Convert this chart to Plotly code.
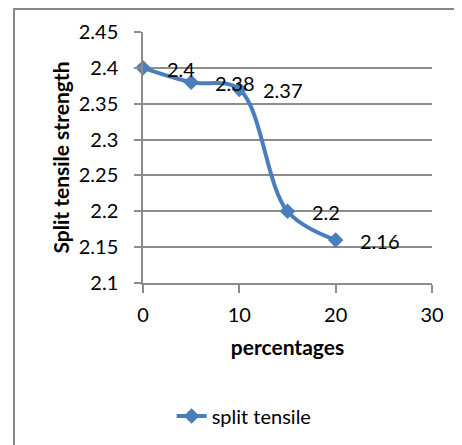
import plotly.graph_objects as go

percentages = [0, 5, 10, 15, 20]
split_tensile = [2.4, 2.38, 2.37, 2.2, 2.16]
point_labels = ["2.4", "2.38", "2.37", "2.2", "2.16"]
x_ticks = [0, 10, 20, 30]
y_ticks = [2.1, 2.15, 2.2, 2.25, 2.3, 2.35, 2.4, 2.45]
y_tick_labels = ["2.1", "2.15", "2.2", "2.25", "2.3", "2.35", "2.4", "2.45"]

BLUE = "#4A7EBB"
GRID = "#8C8C8C"
FONT = "Lato"
FS = 20

fig = go.Figure()
fig.add_trace(go.Scatter(
    x=percentages, y=split_tensile,
    mode="lines+markers",
    name="split tensile",
    line=dict(color=BLUE, width=4, shape="spline", smoothing=1),
    marker=dict(symbol="diamond", size=12, color=BLUE),
    cliponaxis=False,
))

annotations = [
    dict(x=xv, y=yv, xref="x", yref="y", text=t, showarrow=False,
         xanchor="left", yanchor="middle", xshift=22, yshift=-1,
         font=dict(family=FONT, size=FS, color="#000000"))
    for xv, yv, t in zip(percentages, split_tensile, point_labels)
]

fig.update_layout(
    width=454, height=437,
    margin=dict(l=135, r=30, t=24, b=162, autoexpand=False),
    paper_bgcolor="white", plot_bgcolor="white",
    font=dict(family=FONT, size=FS, color="#000000"),
    showlegend=True,
    legend=dict(orientation="h", x=0.35, y=-0.53, xanchor="center", yanchor="middle",
                font=dict(family=FONT, size=FS, color="#000000")),
    annotations=annotations,
    xaxis=dict(
        range=[0, 30], tickvals=x_ticks, ticktext=[str(v) for v in x_ticks],
        showgrid=False, zeroline=False,
        showline=True, linecolor=GRID, linewidth=1.5,
        ticks="outside", ticklen=8, tickcolor=GRID, tickwidth=1.5,
        tickfont=dict(family=FONT, size=FS),
        ticklabelstandoff=5,
        title=dict(text="<b>percentages</b>", font=dict(family=FONT, size=21), standoff=16),
        automargin=False,
    ),
    yaxis=dict(
        range=[2.1, 2.45], tickvals=y_ticks, ticktext=y_tick_labels,
        showgrid=True, gridcolor=GRID, gridwidth=1.5, zeroline=False,
        showline=True, linecolor=GRID, linewidth=1.5,
        ticks="outside", ticklen=7, tickcolor=GRID, tickwidth=1.5,
        tickfont=dict(family=FONT, size=FS),
        ticklabelstandoff=12,
        title=dict(text="<b>Split tensile strength</b>", font=dict(family=FONT, size=21), standoff=3),
        automargin=False,
    ),
    shapes=[dict(type="rect", xref="paper", yref="paper",
                 x0=-0.4464, x1=1.2, y0=-0.75, y1=1.0916,
                 line=dict(color="#868686", width=2), fillcolor="rgba(0,0,0,0)", layer="below")],
)

fig.write_html("out.html")
